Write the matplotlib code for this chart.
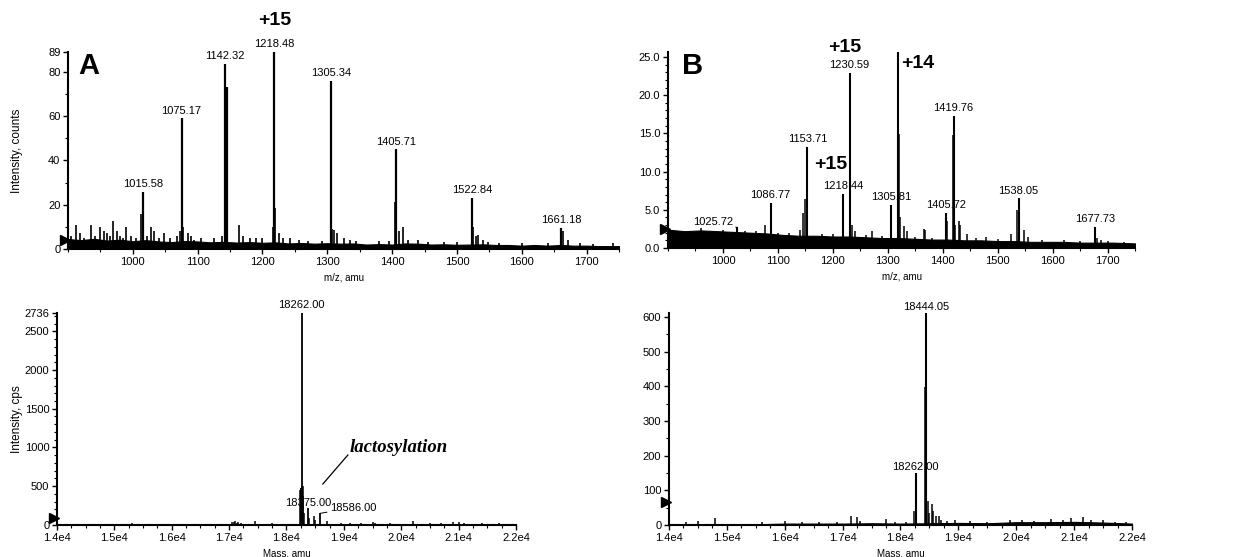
import matplotlib.pyplot as plt
from matplotlib.ticker import MultipleLocator, FixedLocator
import matplotlib.transforms as mtransforms

plt.rcParams['font.family'] = ['Liberation Sans', 'DejaVu Sans']

# ---- panel A, top: m/z spectrum ----
a_mz_peaks = [1015.58, 1075.17, 1142.32, 1144.5, 1218.48, 1305.34, 1405.71, 1522.84, 1661.18]
a_mz_heights = [25.8, 59, 83.6, 73, 89, 76, 45, 23, 9.5]
a_mz_labels = ['1015.58', '1075.17', '1142.32', None, '1218.48', '1305.34', '1405.71', '1522.84', '1661.18']
a_mz_minor_x = [905, 912, 918, 925, 935, 942, 950, 955, 960, 965, 970, 975, 980, 985, 990, 997,
                1005, 1013, 1022, 1028, 1033, 1040, 1048, 1058, 1068, 1072, 1078, 1085, 1090, 1095,
                1105, 1125, 1138, 1146, 1163, 1170, 1180, 1190, 1200, 1216, 1220, 1225, 1232, 1242,
                1256, 1270, 1292, 1307, 1310, 1315, 1325, 1335, 1345, 1380, 1395, 1404, 1410, 1417,
                1425, 1440, 1455, 1480, 1500, 1524, 1530, 1532, 1540, 1548, 1565, 1600, 1640, 1663,
                1672, 1690, 1710, 1740]
a_mz_minor_y = [6, 11, 7, 5, 11, 6, 10, 8, 7, 6, 12.5, 8, 6, 5, 10, 6,
                5, 16, 6, 10, 8, 5, 7, 5, 6, 8, 10, 7, 6, 4,
                5, 5, 6, 11, 11, 6, 5, 5, 5, 10, 18.5, 7, 5, 5,
                4, 3.5, 3.5, 9, 8.5, 7, 5, 4, 3.5, 3.5, 3.5, 21, 8, 10,
                4, 4, 3, 3, 3, 10, 6, 6.5, 4, 3, 2.5, 2.5, 2.5, 8,
                4, 2.5, 2.2, 2.5]
a_mz_base_x = [900, 920, 940, 960, 980, 1000, 1020, 1040, 1060, 1080, 1100, 1120, 1140, 1160,
               1180, 1200, 1220, 1240, 1260, 1280, 1300, 1320, 1340, 1360, 1380, 1400, 1420,
               1440, 1460, 1480, 1500, 1520, 1540, 1560, 1580, 1600, 1620, 1640, 1660, 1680,
               1700, 1720, 1750]
a_mz_base_y = [4.5, 4, 4.6, 3.8, 4.2, 3.5, 4, 3.4, 3.1, 3.6, 3.4, 3, 3.2, 2.9,
               3.1, 2.8, 3, 2.5, 2.7, 2.4, 2.6, 2.4, 2.5, 2, 2.2, 2, 2.5,
               2.4, 2, 2.1, 1.9, 2, 2.1, 1.8, 1.8, 1.5, 1.8, 1.5, 1.8, 1.5,
               1.5, 1.3, 1.3]

# ---- panel B, top: m/z spectrum ----
b_mz_peaks = [1025.72, 1086.77, 1153.71, 1218.44, 1230.59, 1305.81, 1318.45, 1405.72, 1419.76, 1538.05, 1677.73]
b_mz_heights = [2.7, 5.9, 13.2, 7.1, 22.9, 5.6, 25.8, 4.6, 17.3, 6.5, 2.8]
b_mz_labels = ['1025.72', '1086.77', '1153.71', '1218.44', '1230.59', '1305.81', '1318.45',
               '1405.72', '1419.76', '1538.05', '1677.73']
b_mz_minor_x = [960, 1000, 1040, 1060, 1077, 1100, 1120, 1140, 1145, 1150, 1180, 1200, 1232, 1234,
                1240, 1260, 1272, 1290, 1320, 1322, 1330, 1335, 1350, 1365, 1368, 1380, 1407, 1418,
                1422, 1430, 1432, 1445, 1460, 1478, 1500, 1525, 1536, 1547, 1555, 1580, 1620, 1650,
                1680, 1688, 1700, 1730]
b_mz_minor_y = [2.6, 2.4, 2.2, 2.2, 3.0, 2.0, 1.9, 2.4, 4.6, 6.4, 1.8, 1.8, 3.5, 3.0,
                2.2, 1.7, 2.2, 1.6, 14.9, 4.0, 2.9, 2.2, 1.4, 2.5, 2.4, 1.3, 3.5, 14.8,
                3.0, 3.5, 3.0, 1.8, 1.3, 1.5, 1.2, 1.8, 5.0, 2.3, 1.4, 1.0, 1.0, 0.9,
                1.3, 1.0, 0.9, 0.8]
b_mz_base_x = [900, 930, 960, 990, 1020, 1050, 1080, 1110, 1140, 1170, 1200, 1230, 1260, 1290,
               1320, 1350, 1380, 1410, 1440, 1470, 1500, 1530, 1560, 1590, 1620, 1650, 1680,
               1710, 1750]
b_mz_base_y = [2.4, 2.2, 2.3, 2.2, 2.1, 2.0, 1.9, 1.7, 1.6, 1.6, 1.5, 1.5, 1.4, 1.3,
               1.3, 1.2, 1.1, 1.1, 1.0, 1.0, 0.9, 0.9, 0.8, 0.8, 0.8, 0.7, 0.7,
               0.7, 0.6]

# ---- panel A, bottom: deconvoluted mass ----
a_mass_peaks = [18262.00, 18375.00, 18586.00]
a_mass_heights = [2736, 220, 150]
a_mass_minor_x = [18240, 18250, 18255, 18270, 18280, 18285, 18300, 18400, 18480, 18500, 18700,
                  14700, 15300, 15500, 15800, 16000, 16500, 16800, 17050, 17080, 17100, 17130,
                  17150, 17200, 17450, 17750, 18950, 19100, 19300, 19500, 19550, 19800, 20200,
                  20500, 20700, 20900, 21000, 21100, 21400, 21700]
a_mass_minor_y = [450, 477, 480, 500, 500, 380, 150, 90, 110, 60, 50,
                  10, 20, 15, 15, 15, 10, 15, 40, 35, 45, 30,
                  40, 25, 50, 20, 20, 25, 20, 40, 30, 25, 55,
                  30, 25, 35, 35, 30, 25, 20]

# ---- panel B, bottom: deconvoluted mass ----
b_mass_peaks = [18262.00, 18444.05]
b_mass_heights = [149, 612]
b_mass_minor_x = [18430, 18240, 18480, 18500, 18540, 18560, 18620, 18660, 18700, 18800,
                  14300, 14500, 14800, 15600, 16000, 16300, 16600, 16900, 17150, 17250, 17300,
                  17750, 17900, 18100, 18950, 19200, 19500, 19900, 20100, 20300, 20600, 20800,
                  20950, 21150, 21300, 21500, 21700, 21900]
b_mass_minor_y = [397, 40, 70, 35, 60, 40, 25, 25, 15, 12,
                  8, 12, 20, 8, 12, 8, 8, 10, 25, 22, 12,
                  18, 8, 8, 15, 12, 10, 15, 15, 12, 18, 15,
                  20, 22, 15, 15, 10, 8]
b_mass_base_x = [14000, 15500, 16000, 17000, 17500, 18000, 19000, 19500, 20000, 20500, 21000, 21500, 22000]
b_mass_base_y = [1, 2, 4, 4, 5, 4, 6, 5, 8, 8, 9, 7, 4]

mass_ticks = [14000, 15000, 16000, 17000, 18000, 19000, 20000, 21000, 22000]
mass_tick_labels = ['1.4e4', '1.5e4', '1.6e4', '1.7e4', '1.8e4', '1.9e4', '2.0e4', '2.1e4', '2.2e4']

fig = plt.figure(figsize=(12.37, 5.57), dpi=100)
ax_a1 = fig.add_axes([0.055, 0.553, 0.4454, 0.3537])
ax_b1 = fig.add_axes([0.540, 0.5548, 0.3776, 0.3518])
ax_a2 = fig.add_axes([0.0461, 0.0575, 0.3710, 0.3806])
ax_b2 = fig.add_axes([0.5408, 0.0575, 0.3743, 0.3806])


def style(ax):
    for s in ['top', 'right']:
        ax.spines[s].set_visible(False)
    for s in ['left', 'bottom']:
        ax.spines[s].set_linewidth(1.5)
    ax.tick_params(which='major', direction='out', length=3.5, width=1, labelsize=8, pad=2)
    ax.tick_params(which='minor', direction='out', length=2, width=0.8)


def threshold(ax, y):
    tr = mtransforms.blended_transform_factory(ax.transAxes, ax.transData)
    ax.plot([-0.006], [y], marker='>', color='black', markersize=7, transform=tr, clip_on=False)


def label_peaks(ax, xs, ys, labels, dy=2):
    for x, y, t in zip(xs, ys, labels):
        if t:
            ax.annotate(t, (x, y), xytext=(0, dy), textcoords='offset points',
                        ha='center', va='bottom', fontsize=8)


# --- A top ---
ax = ax_a1
ax.fill_between(a_mz_base_x, 0, a_mz_base_y, color='black', lw=0.8)
ax.vlines(a_mz_minor_x, 0, a_mz_minor_y, color='black', lw=1.2)
ax.vlines(a_mz_peaks, 0, a_mz_heights, color='black', lw=1.6)
label_peaks(ax, a_mz_peaks, a_mz_heights, a_mz_labels)
ax.set_xlim(900, 1750)
ax.set_ylim(0, 89)
ax.set_xticks([1000, 1100, 1200, 1300, 1400, 1500, 1600, 1700])
ax.xaxis.set_minor_locator(MultipleLocator(50))
ax.set_yticks([0, 20, 40, 60, 80, 89])
ax.yaxis.set_minor_locator(MultipleLocator(10))
style(ax)
ax.set_ylabel('Intensity, counts', fontsize=8.5, labelpad=18)
ax.set_xlabel('m/z, amu', fontsize=7, labelpad=4)
threshold(ax, 4)
ax.text(0.018, 0.93, 'A', transform=ax.transAxes, fontsize=21, fontweight='bold', va='center')
ax.text(1218.48, 103, '+15', fontsize=14, fontweight='bold', ha='center', va='center', clip_on=False)

# --- B top ---
ax = ax_b1
ax.fill_between(b_mz_base_x, 0, b_mz_base_y, color='black', lw=0.8)
ax.vlines(b_mz_minor_x, 0, b_mz_minor_y, color='black', lw=1.1)
ax.vlines(b_mz_peaks, 0, b_mz_heights, color='black', lw=1.5)
label_peaks(ax, b_mz_peaks[1:], b_mz_heights[1:], b_mz_labels[1:])
ax.annotate(b_mz_labels[0], (b_mz_peaks[0], b_mz_heights[0]), xytext=(-3, 4),
            textcoords='offset points', ha='right', va='center', fontsize=8,
            arrowprops=dict(arrowstyle='-', lw=0.7, color='black', shrinkA=0, shrinkB=0))
ax.set_xlim(900, 1750)
ax.set_ylim(0, 25.65)
ax.set_xticks([1000, 1100, 1200, 1300, 1400, 1500, 1600, 1700])
ax.xaxis.set_minor_locator(MultipleLocator(50))
ax.set_yticks([0, 5, 10, 15, 20, 25])
ax.set_yticklabels(['0.0', '5.0', '10.0', '15.0', '20.0', '25.0'])
ax.yaxis.set_minor_locator(MultipleLocator(1))
style(ax)
ax.set_xlabel('m/z, amu', fontsize=7, labelpad=4)
threshold(ax, 2.5)
ax.text(0.03, 0.93, 'B', transform=ax.transAxes, fontsize=21, fontweight='bold', va='center')
ax.text(1221, 26.3, '+15', fontsize=14, fontweight='bold', ha='center', va='center', clip_on=False)
ax.text(1354, 24.1, '+14', fontsize=14, fontweight='bold', ha='center', va='center')
ax.text(1196, 10.9, '+15', fontsize=14, fontweight='bold', ha='center', va='center')

# --- A bottom ---
ax = ax_a2
ax.axhline(0, color='black', lw=1)
ax.vlines(a_mass_minor_x, 0, a_mass_minor_y, color='black', lw=1.1)
ax.vlines(a_mass_peaks, 0, a_mass_heights, color='black', lw=1.3)
ax.annotate('18262.00', (a_mass_peaks[0], a_mass_heights[0]), xytext=(0, 2),
            textcoords='offset points', ha='center', va='bottom', fontsize=8, annotation_clip=False)
ax.annotate('18375.00', (a_mass_peaks[1], a_mass_heights[1]), xytext=(0, 0),
            textcoords='offset points', ha='center', va='bottom', fontsize=8)
ax.annotate('18586.00', (a_mass_peaks[2], a_mass_heights[2]), xytext=(7, 4),
            textcoords='offset points', ha='left', va='center', fontsize=8,
            arrowprops=dict(arrowstyle='-', lw=0.7, color='black', shrinkA=0, shrinkB=0))
ax.plot([19070, 18634], [903, 529], color='black', lw=0.9)
ax.text(19100, 1000, 'lactosylation', fontsize=13.5, fontweight='bold', fontstyle='italic',
        family=['Liberation Serif', 'DejaVu Serif'], ha='left', va='center')
ax.set_xlim(14000, 22000)
ax.set_ylim(0, 2736)
ax.xaxis.set_major_locator(FixedLocator(mass_ticks))
ax.set_xticklabels(mass_tick_labels)
ax.xaxis.set_minor_locator(MultipleLocator(250))
ax.set_yticks([0, 500, 1000, 1500, 2000, 2500, 2736])
ax.yaxis.set_minor_locator(MultipleLocator(100))
style(ax)
ax.set_ylabel('Intensity, cps', fontsize=8.5, labelpad=1)
ax.set_xlabel('Mass, amu', fontsize=7, labelpad=4)
threshold(ax, 90)

# --- B bottom ---
ax = ax_b2
ax.fill_between(b_mass_base_x, 0, b_mass_base_y, color='black', lw=0.8)
ax.vlines(b_mass_minor_x, 0, b_mass_minor_y, color='black', lw=1.1)
ax.vlines(b_mass_peaks, 0, b_mass_heights, color='black', lw=1.5)
label_peaks(ax, b_mass_peaks, b_mass_heights, ['18262.00', '18444.05'], dy=1)
ax.set_xlim(14000, 22000)
ax.set_ylim(0, 612)
ax.xaxis.set_major_locator(FixedLocator(mass_ticks))
ax.set_xticklabels(mass_tick_labels)
ax.xaxis.set_minor_locator(MultipleLocator(250))
ax.set_yticks([0, 100, 200, 300, 400, 500, 600])
ax.yaxis.set_minor_locator(MultipleLocator(50))
style(ax)
ax.set_xlabel('Mass, amu', fontsize=7, labelpad=4)
threshold(ax, 66)

fig.savefig('out.png', dpi=100)
